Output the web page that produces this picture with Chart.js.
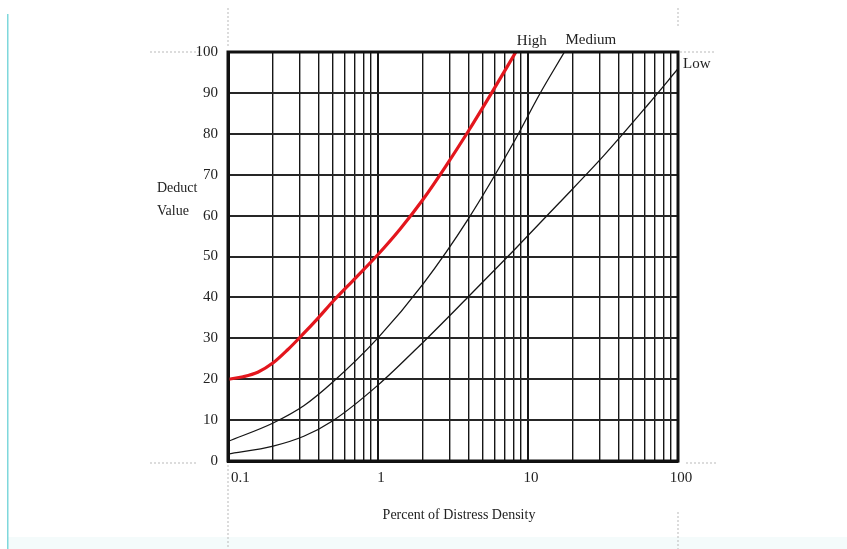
<!DOCTYPE html>
<html>
<head>
<meta charset="utf-8">
<script src="https://cdn.jsdelivr.net/npm/chart.js@4.4.1/dist/chart.umd.min.js"></script>
<style>
  html, body { margin: 0; padding: 0; background: #fff; }
  #wrap { width: 847px; height: 549px; position: relative; }
</style>
</head>
<body>
<div id="wrap"><canvas id="c" width="847" height="549"></canvas></div>
<script>
// ---- data ----
const xTickValues = [0.1,0.2,0.3,0.4,0.5,0.6,0.7,0.8,0.9,1,2,3,4,5,6,7,8,9,10,20,30,40,50,60,70,80,90,100];
const xTickLabels = [0.1, 1, 10, 100];
const yTickValues = [0,10,20,30,40,50,60,70,80,90,100];

const seriesNames = ['High', 'Medium', 'Low'];

const highX = [0.1, 0.126, 0.158, 0.2, 0.25, 0.316, 0.4, 0.5, 0.71, 1, 1.41, 2, 2.82, 3.98, 5.62, 8.3];
const highY = [20, 20.6, 21.7, 24.0, 27.2, 31.0, 35.0, 39.0, 44.8, 50.5, 56.8, 64.0, 72.0, 80.5, 89.5, 100];

const mediumX = [0.1, 0.2, 0.32, 0.5, 1, 2, 4, 8, 12, 17.5];
const mediumY = [4.8, 9.3, 13.5, 19.3, 30.1, 43.3, 59.2, 77.8, 89.8, 100];

const lowX = [0.1, 0.2, 0.32, 0.5, 1, 2, 4, 8, 16, 32, 63, 100];
const lowY = [1.7, 3.65, 6.05, 9.85, 18.55, 29.05, 40.15, 51.4, 62.95, 74.65, 87.1, 95.9];

const xTitle = 'Percent of Distress Density';
const yTitleLines = ['Deduct', 'Value'];

// ---- build ----
const toPts = (xs, ys) => xs.map((x, i) => ({ x: x, y: ys[i] }));
const SERIF = "'Liberation Serif', 'DejaVu Serif', serif";

const decorPlugin = {
  id: 'decor',
  beforeDraw(chart) {
    const ctx = chart.ctx;
    const a = chart.chartArea;
    ctx.save();
    ctx.fillStyle = '#ffffff';
    ctx.fillRect(0, 0, chart.width, chart.height);
    // faint bottom band and left cyan line
    ctx.fillStyle = '#f4fbfb';
    ctx.fillRect(8, 537, chart.width - 8, chart.height - 537);
    ctx.fillStyle = '#7fd8dc';
    ctx.fillRect(7, 14, 1.5, chart.height - 14);
    // dotted guide lines
    ctx.strokeStyle = '#b9b9b9';
    ctx.lineWidth = 1;
    ctx.setLineDash([2, 2]);
    ctx.beginPath();
    ctx.moveTo(a.left, 8); ctx.lineTo(a.left, a.top - 4);
    ctx.moveTo(a.left, a.bottom + 4); ctx.lineTo(a.left, chart.height);
    ctx.moveTo(a.right, 8); ctx.lineTo(a.right, 26);
    ctx.moveTo(a.right, 512); ctx.lineTo(a.right, chart.height);
    ctx.moveTo(150, a.top); ctx.lineTo(200, a.top);
    ctx.moveTo(a.right + 2, a.top); ctx.lineTo(716, a.top);
    ctx.moveTo(150, a.bottom + 2); ctx.lineTo(197, a.bottom + 2);
    ctx.moveTo(686, a.bottom + 2); ctx.lineTo(718, a.bottom + 2);
    ctx.stroke();
    ctx.restore();
  },
  afterDraw(chart) {
    const ctx = chart.ctx;
    const a = chart.chartArea;
    const xs = chart.scales.x;
    ctx.save();
    ctx.fillStyle = '#222';
    ctx.textBaseline = 'middle';
    // x tick labels (only decades)
    ctx.font = '15px ' + SERIF;
    xTickLabels.forEach((v, i) => {
      const px = xs.getPixelForValue(v);
      if (i === 0) { ctx.textAlign = 'left'; ctx.fillText(String(v), px + 3, 478); }
      else { ctx.textAlign = 'center'; ctx.fillText(String(v), px + 3, 478); }
    });
    // y title (horizontal, two lines)
    ctx.font = '14px ' + SERIF;
    ctx.textAlign = 'left';
    ctx.fillText(yTitleLines[0], 157, 188);
    ctx.fillText(yTitleLines[1], 157, 211);
    // x title
    ctx.textAlign = 'center';
    ctx.fillText(xTitle, (a.left + a.right) / 2 + 6, 515);
    // series end labels
    ctx.font = '15px ' + SERIF;
    const hx = xs.getPixelForValue(highX[highX.length - 1]);
    ctx.textAlign = 'center';
    ctx.fillText(seriesNames[0], hx + 16, 41);
    const mx = xs.getPixelForValue(mediumX[mediumX.length - 1]);
    ctx.textAlign = 'left';
    ctx.fillText(seriesNames[1], mx + 1, 40);
    const lx = xs.getPixelForValue(lowX[lowX.length - 1]);
    ctx.fillText(seriesNames[2], lx + 5, 64);
    // thick frame
    ctx.strokeStyle = '#111';
    ctx.lineWidth = 3;
    ctx.strokeRect(a.left, a.top, a.right - a.left, a.bottom - a.top);
    ctx.restore();
  }
};

new Chart(document.getElementById('c'), {
  type: 'scatter',
  data: {
    datasets: [
      { label: seriesNames[0], data: toPts(highX, highY), showLine: true,
        borderColor: '#e3161d', borderWidth: 3.2, pointRadius: 0, cubicInterpolationMode: 'monotone' },
      { label: seriesNames[1], data: toPts(mediumX, mediumY), showLine: true,
        borderColor: '#151515', borderWidth: 1.3, pointRadius: 0, cubicInterpolationMode: 'monotone' },
      { label: seriesNames[2], data: toPts(lowX, lowY), showLine: true,
        borderColor: '#151515', borderWidth: 1.3, pointRadius: 0, cubicInterpolationMode: 'monotone' }
    ]
  },
  options: {
    responsive: false,
    animation: false,
    devicePixelRatio: 1,
    layout: { padding: { left: 0, right: 169, top: 52, bottom: 0 } },
    plugins: { legend: { display: false }, tooltip: { enabled: false } },
    scales: {
      x: {
        type: 'logarithmic',
        min: 0.1, max: 100,
        afterBuildTicks(scale) { scale.ticks = xTickValues.map(v => ({ value: v })); },
        afterFit(scale) { scale.height = 88; },
        ticks: { display: false, autoSkip: false, maxRotation: 0 },
        grid: {
          drawTicks: false,
          color: '#161616',
          lineWidth(c) {
            const v = c.tick ? c.tick.value : 0;
            if (Math.abs(v - 1) < 1e-9 || Math.abs(v - 10) < 1e-9) return 2;
            return 1.4;
          }
        },
        border: { display: true, color: '#111', width: 3 }
      },
      y: {
        type: 'linear',
        min: 0, max: 100,
        afterBuildTicks(scale) { scale.ticks = yTickValues.map(v => ({ value: v })); },
        afterFit(scale) { scale.width = 228; },
        ticks: {
          padding: 10, color: '#222', font: { family: SERIF, size: 15 },
          callback(v) { return String(v); }
        },
        grid: { drawTicks: false, color: '#262626', lineWidth: 2 },
        border: { display: true, color: '#111', width: 3 }
      }
    }
  },
  plugins: [decorPlugin]
});
</script>
</body>
</html>
